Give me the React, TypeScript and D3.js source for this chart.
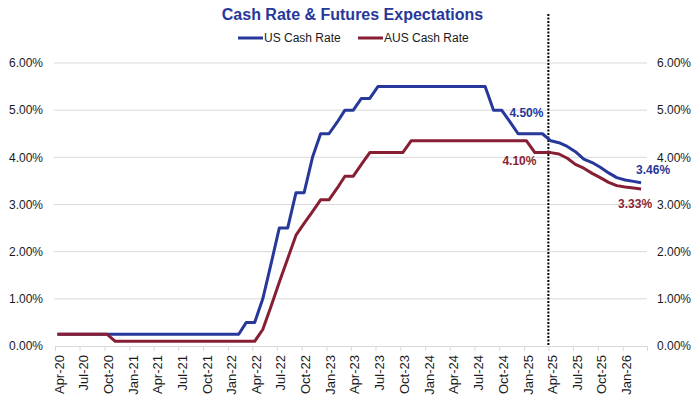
import * as d3 from 'd3';
import { useEffect, useRef } from 'react';

// monthly observations, Apr-20 .. Mar-26 (futures from Apr-25)
const months = d3.timeMonth.range(new Date(2020, 3, 1), new Date(2026, 3, 1));

const usCashRate = [
  0.25, 0.25, 0.25, 0.25, 0.25, 0.25, 0.25, 0.25, 0.25, // 2020
  0.25, 0.25, 0.25, 0.25, 0.25, 0.25, 0.25, 0.25, 0.25, 0.25, 0.25, 0.25, // 2021
  0.25, 0.25, 0.5, 0.5, 1.0, 1.75, 2.5, 2.5, 3.25, 3.25, 4.0, 4.5, // 2022
  4.5, 4.75, 5.0, 5.0, 5.25, 5.25, 5.5, 5.5, 5.5, 5.5, 5.5, 5.5, // 2023
  5.5, 5.5, 5.5, 5.5, 5.5, 5.5, 5.5, 5.5, 5.0, 5.0, 4.75, 4.5, // 2024
  4.5, 4.5, 4.5, 4.35, 4.31, 4.23, 4.12, 3.96, 3.89, 3.79, 3.67, 3.57, // 2025
  3.52, 3.49, 3.46, // 2026
];

const ausCashRate = [
  0.25, 0.25, 0.25, 0.25, 0.25, 0.25, 0.25, 0.1, 0.1, // 2020
  0.1, 0.1, 0.1, 0.1, 0.1, 0.1, 0.1, 0.1, 0.1, 0.1, 0.1, 0.1, // 2021
  0.1, 0.1, 0.1, 0.1, 0.35, 0.85, 1.35, 1.85, 2.35, 2.6, 2.85, 3.1, // 2022
  3.1, 3.35, 3.6, 3.6, 3.85, 4.1, 4.1, 4.1, 4.1, 4.1, 4.35, 4.35, // 2023
  4.35, 4.35, 4.35, 4.35, 4.35, 4.35, 4.35, 4.35, 4.35, 4.35, 4.35, 4.35, // 2024
  4.35, 4.1, 4.1, 4.1, 4.07, 3.98, 3.85, 3.77, 3.66, 3.57, 3.47, 3.4, // 2025
  3.37, 3.35, 3.33, // 2026
];

const seriesNames = ['US Cash Rate', 'AUS Cash Rate'];
const seriesColors = ['#27389a', '#861f34'];
const yTicks = [0, 1, 2, 3, 4, 5, 6];
const forecastStart = new Date(2025, 3, 1);
const lastActual = new Date(2025, 2, 1);

const width = 695;
const height = 399;
const marginTop = 63;
const marginBottom = 53;
const marginLeft = 55;
const marginRight = 48;

const App = () => {
  const ref = useRef<SVGSVGElement>(null);

  useEffect(() => {
    const svg = d3.select(ref.current);
    svg.selectAll('*').remove();

    const x = d3.scaleTime([new Date(2020, 3, 1), new Date(2026, 3, 1)], [marginLeft, width - marginRight]);
    const y = d3.scaleLinear([0, 6], [height - marginBottom, marginTop]);
    const pos = (d: Date) => x(d3.timeDay.offset(d, 9));

    // gridlines
    svg
      .append('g')
      .selectAll('line')
      .data(yTicks.slice(1))
      .enter()
      .append('line')
      .attr('x1', marginLeft - 1)
      .attr('x2', width - marginRight)
      .attr('y1', (d) => y(d))
      .attr('y2', (d) => y(d))
      .attr('stroke', '#d9d9d9');

    // y labels, both sides
    const fmt = (d: number) => d.toFixed(2) + '%';
    [43, 657].forEach((lx, side) => {
      svg
        .append('g')
        .selectAll('text')
        .data(yTicks)
        .enter()
        .append('text')
        .attr('x', lx)
        .attr('y', (d) => y(d))
        .attr('dy', '0.36em')
        .attr('text-anchor', side === 0 ? 'end' : 'start')
        .attr('font-size', 12)
        .attr('fill', '#1a1a1a')
        .text(fmt);
    });

    // x axis
    const tickDates = d3.timeMonth.every(3)!.range(new Date(2020, 3, 1), new Date(2026, 3, 2));
    const xAxis = d3
      .axisBottom(x)
      .tickValues(tickDates)
      .tickSize(5)
      .tickSizeOuter(0)
      .tickFormat((d: any) => (d < new Date(2026, 3, 1) ? d3.timeFormat('%b-%y')(d) : ''));
    const axis = svg.append('g').attr('transform', `translate(0,${height - marginBottom})`).call(xAxis);
    axis.selectAll('path, line').attr('stroke', '#d9d9d9');
    axis
      .selectAll('text')
      .attr('transform', 'rotate(-90)')
      .attr('x', -9)
      .attr('y', 0)
      .attr('dy', '0.62em')
      .attr('text-anchor', 'end')
      .attr('font-size', 13)
      .attr('font-family', 'Arial, "Liberation Sans", sans-serif')
      .attr('fill', '#1a1a1a');

    // forecast divider
    svg
      .append('line')
      .attr('x1', x(forecastStart))
      .attr('x2', x(forecastStart))
      .attr('y1', 14)
      .attr('y2', height - marginBottom)
      .attr('stroke', '#000')
      .attr('stroke-width', 2)
      .attr('stroke-dasharray', '2,1.5');

    // lines
    [usCashRate, ausCashRate].forEach((values, i) => {
      const line = d3
        .line<number>()
        .x((_, j) => pos(months[j]))
        .y((d) => y(d));
      svg
        .append('path')
        .attr('d', line(values))
        .attr('fill', 'none')
        .attr('stroke', seriesColors[i])
        .attr('stroke-width', 3)
        .attr('stroke-linejoin', 'round');
    });

    // value annotations
    const iLast = months.length - 1;
    const iAct = months.findIndex((m) => +m === +lastActual);
    const notes = [
      { v: usCashRate[iAct], px: pos(months[iAct]) + 1, py: y(usCashRate[iAct]) - 17, anchor: 'end', c: 0 },
      { v: ausCashRate[iAct], px: pos(months[iAct]) - 6, py: y(ausCashRate[iAct]) + 12.5, anchor: 'end', c: 1 },
      { v: usCashRate[iLast], px: pos(months[iLast]) - 5, py: y(usCashRate[iLast]) - 8.5, anchor: 'start', c: 0 },
      { v: ausCashRate[iLast], px: pos(months[iLast]) - 23, py: y(ausCashRate[iLast]) + 19.5, anchor: 'start', c: 1 },
    ];
    svg
      .append('g')
      .selectAll('text')
      .data(notes)
      .enter()
      .append('text')
      .attr('x', (d) => d.px)
      .attr('y', (d) => d.py)
      .attr('text-anchor', (d) => d.anchor)
      .attr('font-size', 12)
      .attr('font-weight', 'bold')
      .attr('fill', (d) => seriesColors[d.c])
      .text((d) => d.v.toFixed(2) + '%');

    // title
    svg
      .append('text')
      .attr('x', 352.5)
      .attr('y', 20)
      .attr('text-anchor', 'middle')
      .attr('font-size', 16)
      .attr('font-weight', 'bold')
      .attr('fill', '#27389a')
      .text('Cash Rate & Futures Expectations');

    // legend
    const legendX = [238, 358];
    seriesNames.forEach((name, i) => {
      const g = svg.append('g').attr('transform', `translate(${legendX[i]},38)`);
      g.append('line').attr('x1', 0).attr('x2', 25).attr('stroke', seriesColors[i]).attr('stroke-width', 3);
      g.append('text')
        .attr('x', 26)
        .attr('dy', '0.35em')
        .attr('font-size', 12)
        .attr('fill', '#1a1a1a')
        .text(name);
    });
  }, []);

  return (
    <svg
      ref={ref}
      width={width}
      height={height}
      style={{ position: 'absolute', left: 0, top: 0, fontFamily: 'Arial, "Liberation Sans", sans-serif', background: '#fff' }}
    />
  );
};

export default App;
